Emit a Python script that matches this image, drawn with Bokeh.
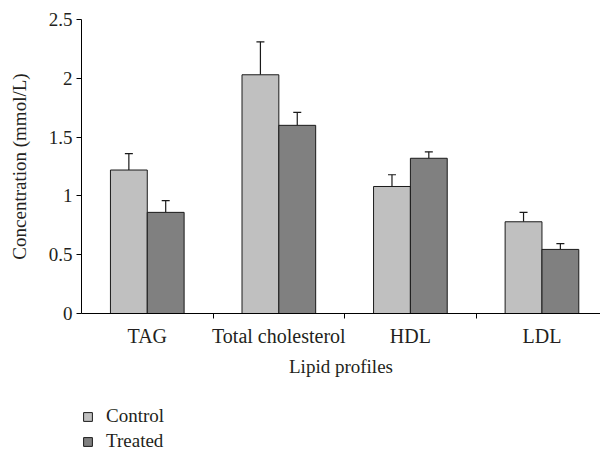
from bokeh.plotting import figure
from bokeh.models import Range1d, FixedTicker, Whisker, TeeHead, ColumnDataSource, Legend, LegendItem
from bokeh.layouts import column
from bokeh.embed import file_html
from bokeh.resources import INLINE

categories = ["TAG", "Total cholesterol", "HDL", "LDL"]
control = [1.22, 2.03, 1.08, 0.78]
treated = [0.86, 1.60, 1.32, 0.545]
control_err = [0.14, 0.28, 0.10, 0.08]
treated_err = [0.10, 0.11, 0.055, 0.05]
y_ticks = [0, 0.5, 1, 1.5, 2, 2.5]
y_tick_labels = ["0", "0.5", "1", "1.5", "2", "2.5"]
series = ["Control", "Treated"]

FONT = "Liberation Serif"
TXT = "#231f20"
BW = 0.28
C_FILL = "#c0c0c0"
T_FILL = "#808080"
EDGE = "#1a1a1a"

centers = [i + 0.5 for i in range(len(categories))]
xc = [c - BW / 2 for c in centers]
xt = [c + BW / 2 for c in centers]

src_c = ColumnDataSource(dict(x=xc, top=control, upper=[v + e for v, e in zip(control, control_err)]))
src_t = ColumnDataSource(dict(x=xt, top=treated, upper=[v + e for v, e in zip(treated, treated_err)]))

p = figure(width=600, height=380, output_backend="svg", toolbar_location=None,
           x_range=Range1d(0, 3.945), y_range=Range1d(0, 2.5),
           min_border_left=81, min_border_right=0, min_border_top=19, min_border_bottom=67)
p.outline_line_color = None
p.xgrid.visible = False
p.ygrid.visible = False

p.vbar(x="x", top="top", width=BW, source=src_c, fill_color=C_FILL, line_color=EDGE, line_width=1)
p.vbar(x="x", top="top", width=BW, source=src_t, fill_color=T_FILL, line_color=EDGE, line_width=1)

for src in (src_c, src_t):
    w = Whisker(base="x", lower="top", upper="upper", source=src, dimension="height",
                line_color=EDGE, line_width=1.2,
                upper_head=TeeHead(size=8, line_color=EDGE, line_width=1.2), lower_head=None)
    p.add_layout(w)

# x axis
xa = p.xaxis[0]
xa.ticker = FixedTicker(ticks=centers, minor_ticks=[1, 2, 3])
xa.major_label_overrides = {c: n for c, n in zip(centers, categories)}
xa.major_tick_out = 0
xa.major_tick_in = 0
xa.minor_tick_out = 5
xa.minor_tick_in = 0
xa.minor_tick_line_color = "black"
xa.axis_line_color = "black"
xa.axis_label = "Lipid profiles"
xa.major_label_standoff = 6
xa.axis_label_standoff = 6

# y axis
ya = p.yaxis[0]
ya.ticker = FixedTicker(ticks=y_ticks)
ya.major_label_overrides = {t: l for t, l in zip(y_ticks, y_tick_labels)}
ya.major_tick_out = 5
ya.major_tick_in = 0
ya.minor_tick_line_color = None
ya.axis_line_color = "black"
ya.axis_label = "Concentration (mmol/L)"
ya.major_label_standoff = 4
ya.axis_label_standoff = 16

for ax in (xa, ya):
    ax.major_label_text_font = FONT
    ax.major_label_text_font_size = "19px"
    ax.major_label_text_color = TXT
    ax.axis_label_text_font = FONT
    ax.axis_label_text_font_size = "19px"
    ax.axis_label_text_font_style = "normal"
    ax.axis_label_text_color = TXT
    ax.major_tick_line_color = "black"
xa.major_label_text_font_size = "20px"

# legend figure below (frame is aligned with the main figure's frame)
p2 = figure(width=600, height=72, output_backend="svg", toolbar_location=None,
            x_range=Range1d(0, 1), y_range=Range1d(0, 1),
            x_axis_location=None, y_axis_location=None,
            min_border_left=0, min_border_right=0, min_border_top=0, min_border_bottom=0)
p2.outline_line_color = None
p2.xgrid.visible = False
p2.ygrid.visible = False
lc = p2.vbar(x=[-10], top=[-10], width=0.1, fill_color=C_FILL, line_color=EDGE, line_width=1)
lt = p2.vbar(x=[-10], top=[-10], width=0.1, fill_color=T_FILL, line_color=EDGE, line_width=1)

legend = Legend(items=[LegendItem(label=series[0], renderers=[lc]),
                       LegendItem(label=series[1], renderers=[lt])],
                location=(1, 0), orientation="vertical",
                glyph_width=11, glyph_height=11, label_standoff=13, spacing=3,
                padding=0, margin=0, border_line_color=None, background_fill_alpha=0,
                label_text_font=FONT, label_text_font_size="19px", label_text_color=TXT,
                label_height=20)
p2.add_layout(legend, "center")

layout = column(p, p2, spacing=0)
open("out.html", "w").write(file_html(layout, INLINE))
